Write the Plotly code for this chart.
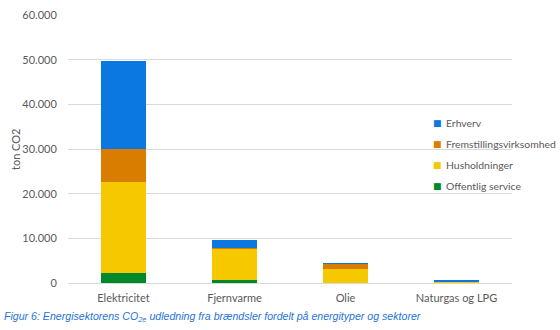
import plotly.graph_objects as go

categories = ["Elektricitet", "Fjernvarme", "Olie", "Naturgas og LPG"]
offentlig = [2200, 650, 60, 30]
husholdninger = [20500, 7050, 3100, 330]
fremstilling = [7400, 50, 1150, 40]
erhverv = [19500, 1880, 90, 100]
y_ticks = [0, 10000, 20000, 30000, 40000, 50000, 60000]

series = [
    ("Offentlig service", offentlig, "#00882D"),
    ("Husholdninger", husholdninger, "#F5C800"),
    ("Fremstillingsvirksomhed", fremstilling, "#D97D00"),
    ("Erhverv", erhverv, "#0A78E0"),
]

W, H = 560, 330
ML, MR, MT, MB = 68, 48, 8, 47
plot_h = H - MT - MB
plot_w = W - ML - MR

fig = go.Figure()
for name, vals, col in series:
    fig.add_trace(go.Bar(x=categories, y=vals, name=name, marker=dict(color=col, line=dict(width=0)),
                         width=0.4, showlegend=False))

font_fam = "Lato, 'Open Sans', sans-serif"
annotations = [
    dict(text="ton CO2", xref="paper", yref="paper", x=0, y=0.5, xanchor="center", yanchor="middle",
         textangle=-90, showarrow=False, xshift=-53, font=dict(size=11, color="#595959")),
    dict(text="<i>Figur 6: Energisektorens CO<sub>2e</sub> udledning fra brændsler fordelt på energityper og sektorer</i>",
         xref="paper", yref="paper", x=0, y=-0.127, xanchor="left", yanchor="middle",
         xshift=-66, showarrow=False, font=dict(family="Arial, 'Liberation Sans', sans-serif", size=10.6, color="#1F74D6")),
]
# legend (top to bottom: Erhverv, Fremstilling, Husholdninger, Offentlig)
legend_rows_px = [119, 140, 162, 183]
for (name, vals, col), py in zip(reversed(series), legend_rows_px):
    yp = (H - MB - py) / plot_h
    annotations.append(dict(text="■", xref="paper", yref="paper", x=(437 - ML) / plot_w, y=yp,
                            xanchor="center", yanchor="middle", showarrow=False,
                            font=dict(family="DejaVu Sans", size=9, color=col)))
    annotations.append(dict(text=name, xref="paper", yref="paper", x=(444 - ML) / plot_w, y=yp,
                            xanchor="left", yanchor="middle", showarrow=False,
                            font=dict(size=10.4, color="#595959")))

fig.update_layout(
    width=W, height=H,
    barmode="stack",
    separators=",.",
    paper_bgcolor="white", plot_bgcolor="white",
    margin=dict(l=ML, r=MR, t=MT, b=MB),
    font=dict(family=font_fam, size=11, color="#595959"),
    showlegend=False,
    xaxis=dict(showgrid=False, showline=False, ticks="outside", ticklen=5,
               tickcolor="rgba(0,0,0,0)", tickfont=dict(size=11, color="#595959")),
    yaxis=dict(range=[0, 60000], tickvals=y_ticks, tickformat=",d", showgrid=True, gridcolor="#D9D9D9",
               gridwidth=1, zeroline=True, zerolinecolor="#D9D9D9", zerolinewidth=1,
               showline=False, ticks="outside", ticklen=8, tickcolor="rgba(0,0,0,0)",
               tickfont=dict(size=11, color="#595959")),
    annotations=annotations,
)
fig.write_html("out.html")
